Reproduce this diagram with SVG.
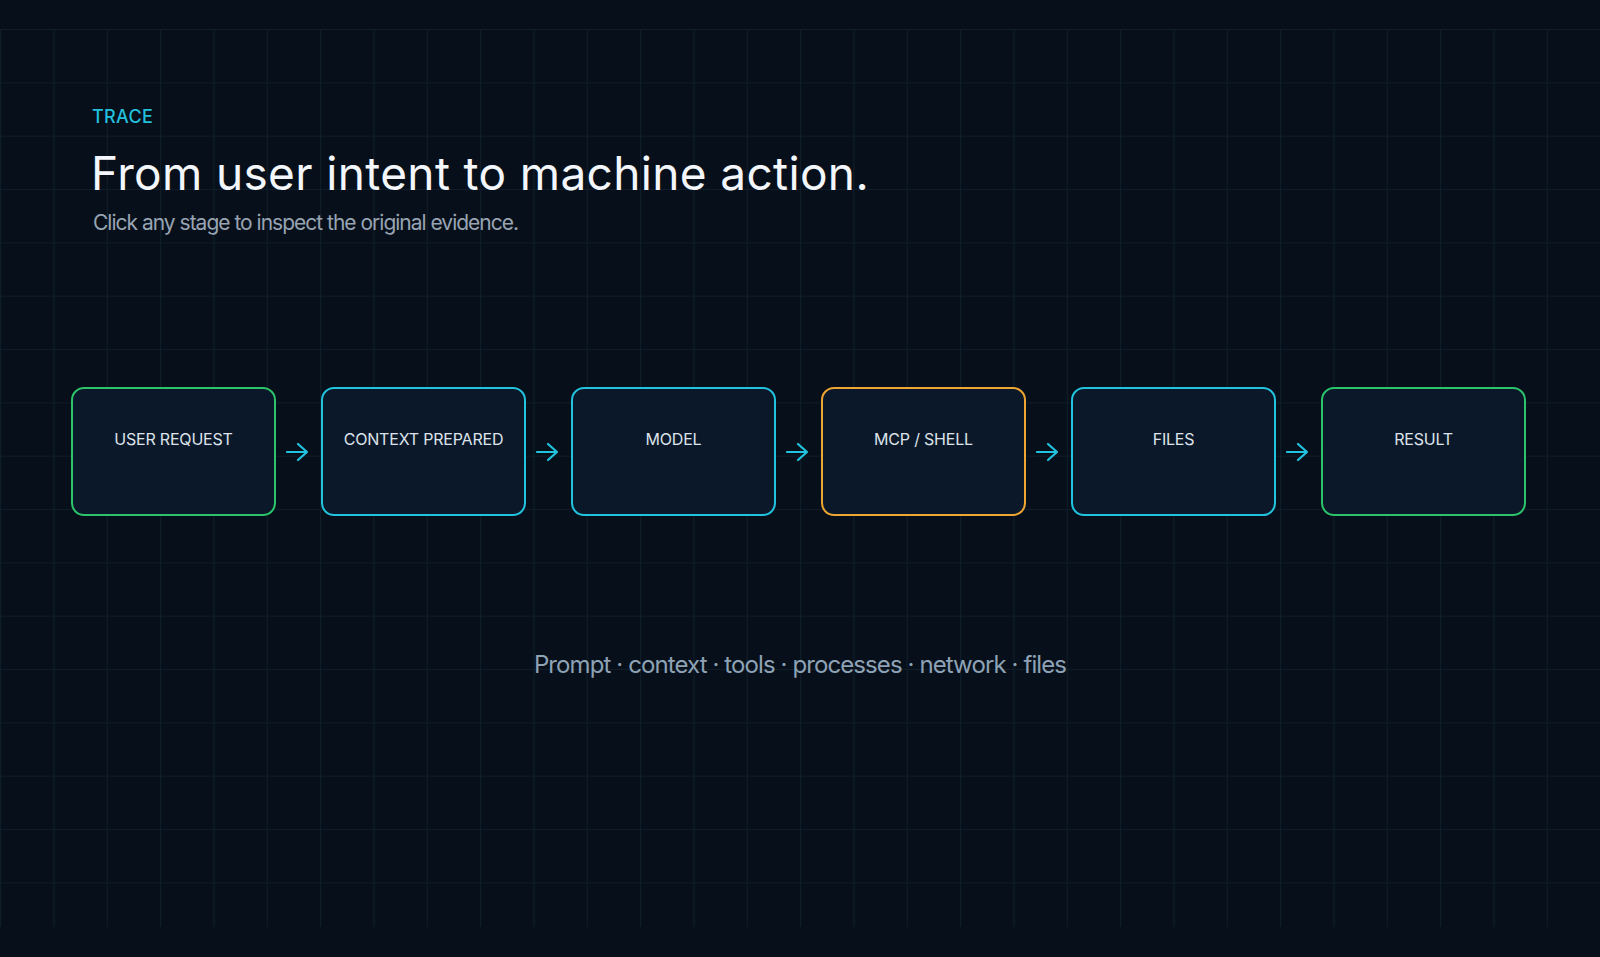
<svg xmlns="http://www.w3.org/2000/svg" width="1600" height="957" viewBox="0 0 1600 957">
  <style>
    .eyebrow { font-family: Inter, "Noto Sans", "Liberation Sans", sans-serif; font-size: 18px; font-weight: 500; fill: #22bfdc; letter-spacing: 0.3px; }
    .title { font-family: Inter, "Noto Sans", "Liberation Sans", sans-serif; font-size: 46px; font-weight: 400; fill: #f3f6fa; letter-spacing: 0.35px; }
    .sub { font-family: Inter, "Noto Sans", "Liberation Sans", sans-serif; font-size: 21px; fill: #98a4b3; letter-spacing: -1px; }
    .foot { font-family: Inter, "Noto Sans", "Liberation Sans", sans-serif; font-size: 24px; fill: #8ea2b6; letter-spacing: -0.9px; }
    .box { fill: #0b1829; stroke-width: 2; }
    .green { stroke: #2cc36a; }
    .cyan { stroke: #22c3de; }
    .orange { stroke: #eea532; }
    .label { font-family: Inter, "Noto Sans", "Liberation Sans", sans-serif; font-size: 16px; font-weight: 400; fill: #dde3ea; letter-spacing: -0.2px; text-anchor: middle; }
    .arrow { fill: none; stroke: #22c3de; stroke-width: 2.2; stroke-linecap: round; stroke-linejoin: round; }
  </style>
  <defs>
    <pattern id="grid" patternUnits="userSpaceOnUse" x="0" y="29" width="53.333" height="53.333">
      <path d="M 53.333 0.5 L 0.5 0.5 L 0.5 53.333" fill="none" stroke="#0f1d2a" stroke-width="1.2"/>
    </pattern>
  </defs>
  <rect x="0" y="0" width="1600" height="957" fill="#07101a"/>
  <rect x="0" y="29" width="1600" height="898" fill="url(#grid)"/>

  <g id="header">
    <text class="eyebrow" x="92" y="123">TRACE</text>
    <text class="title" x="91" y="190">From user intent to machine action.</text>
    <text class="sub" x="93" y="230">Click any stage to inspect the original evidence.</text>
  </g>

  <g id="connectors">
    <path class="arrow" d="M 287 452 L 307 452 M 298 444 L 307 452 L 298 460"/>
    <path class="arrow" d="M 537 452 L 557 452 M 548 444 L 557 452 L 548 460"/>
    <path class="arrow" d="M 787 452 L 807 452 M 798 444 L 807 452 L 798 460"/>
    <path class="arrow" d="M 1037 452 L 1057 452 M 1048 444 L 1057 452 L 1048 460"/>
    <path class="arrow" d="M 1287 452 L 1307 452 M 1298 444 L 1307 452 L 1298 460"/>
  </g>

  <g id="node-user-request">
    <rect class="box green" x="72" y="388" width="203" height="127" rx="12"/>
    <text class="label" x="173.5" y="445">USER REQUEST</text>
  </g>
  <g id="node-context-prepared">
    <rect class="box cyan" x="322" y="388" width="203" height="127" rx="12"/>
    <text class="label" x="423.5" y="445">CONTEXT PREPARED</text>
  </g>
  <g id="node-model">
    <rect class="box cyan" x="572" y="388" width="203" height="127" rx="12"/>
    <text class="label" x="673.5" y="445">MODEL</text>
  </g>
  <g id="node-mcp-shell">
    <rect class="box orange" x="822" y="388" width="203" height="127" rx="12"/>
    <text class="label" x="923.5" y="445">MCP / SHELL</text>
  </g>
  <g id="node-files">
    <rect class="box cyan" x="1072" y="388" width="203" height="127" rx="12"/>
    <text class="label" x="1173.5" y="445">FILES</text>
  </g>
  <g id="node-result">
    <rect class="box green" x="1322" y="388" width="203" height="127" rx="12"/>
    <text class="label" x="1423.5" y="445">RESULT</text>
  </g>

  <g id="footer">
    <text class="foot" x="800" y="673" text-anchor="middle">Prompt · context · tools · processes · network · files</text>
  </g>
</svg>
